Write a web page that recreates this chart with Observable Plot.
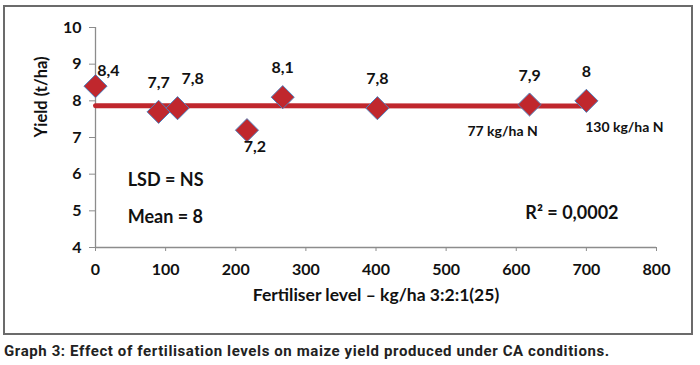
<!DOCTYPE html>
<html><head><meta charset="utf-8">
<script src="https://cdn.jsdelivr.net/npm/d3@7"></script>
<script src="https://cdn.jsdelivr.net/npm/@observablehq/plot@0.6"></script>
<style>
body{margin:0;background:#fff;width:700px;height:365px;overflow:hidden;font-family:Lato,"Open Sans",sans-serif;}
#box{position:absolute;left:3px;top:5px;width:686px;height:326px;border:2px solid #6b6b6b;}
#cap{position:absolute;left:4px;top:342px;font-family:"Roboto",sans-serif;font-weight:bold;font-size:15px;letter-spacing:0.6px;color:#222;white-space:nowrap;}
</style></head>
<body>
<div id="box"></div>
<div id="cap">Graph 3: Effect of fertilisation levels on maize yield produced under CA conditions.</div>
<script>
// data
const fertiliser = [0, 90, 117, 216, 267, 402, 619, 700];
const yieldTHa   = [8.4, 7.7, 7.8, 7.2, 8.1, 7.8, 7.9, 8.0];
const valueLabels = ["8,4", "7,7", "7,8", "7,2", "8,1", "7,8", "7,9", "8"];
const labelPlace  = ["right", "above", "above-right", "below", "above", "above", "above", "above"];
const xTicks = [0, 100, 200, 300, 400, 500, 600, 700, 800];
const yTicks = [4, 5, 6, 7, 8, 9, 10];
const xTitle = "Fertiliser level \u2013 kg/ha 3:2:1(25)";
const yTitle = "Yield (t/ha)";
const noteText = ["LSD = NS", "Mean = 8", "R\u00b2 = 0,0002"];
const noteX = [46, 46, 613];
const noteY = [5.83, 4.83, 4.93];
const nText = ["77 kg/ha N", "130 kg/ha N"];
const nX = [619, 700];
const nY = [7.9, 8.0];
const nPlace = ["below-left", "below-right"];

const pts = fertiliser.map((x, i) => ({x, y: yieldTHa[i], label: valueLabels[i], place: labelPlace[i]}));
const offs = {"right": [13, -15], "above": [0, -29], "above-right": [15, -29], "below": [8, 17]};
const nOffs = {"below-left": [-27, 27], "below-right": [38, 27]};
const notes = noteText.map((t, i) => ({t, x: noteX[i], y: noteY[i]}));
const nNotes = nText.map((t, i) => ({t, x: nX[i], y: nY[i], place: nPlace[i]}));

const red = "#c0272d";
const font = "Lato, 'Open Sans', sans-serif";

const labelMarks = Object.entries(offs).map(([k, [dx, dy]]) =>
  Plot.text(pts.filter(d => d.place === k), {x: "x", y: "y", text: "label", dx, dy,
    fontSize: 16, fontWeight: "bold", fill: "#111"}));
const nMarks = Object.entries(nOffs).map(([k, [dx, dy]]) =>
  Plot.text(nNotes.filter(d => d.place === k), {x: "x", y: "y", text: "t", dx, dy,
    fontSize: 14, fontWeight: "bold", fill: "#111"}));

const chart = Plot.plot({
  width: 686, height: 326,
  marginLeft: 90, marginRight: 35, marginTop: 20, marginBottom: 86,
  style: {fontFamily: font, background: "transparent", overflow: "visible"},
  x: {domain: [0, 800]},
  y: {domain: [4, 10]},
  marks: [
    Plot.ruleX([0], {stroke: "#8c8c8c", strokeWidth: 1.3}),
    Plot.ruleY([4], {stroke: "#8c8c8c", strokeWidth: 1.3}),
    Plot.axisY({ticks: yTicks, tickFormat: "d", tickSize: 6, tickPadding: 8, stroke: "#8c8c8c",
      fontSize: 16, fontWeight: "bold", fill: "#111", label: null}),
    Plot.axisX({ticks: xTicks, tickFormat: "d", tickSize: 4, tickPadding: 12, stroke: "#8c8c8c",
      fontSize: 16, fontWeight: "bold", fill: "#111", label: null}),
    Plot.text([yTitle], {frameAnchor: "left", dx: -54, rotate: -90, fontSize: 16.5, fontWeight: "bold", fill: "#111"}),
    Plot.text([xTitle], {frameAnchor: "bottom", dy: 53, fontSize: 17.5, fontWeight: "bold", fill: "#111"}),
    Plot.linearRegressionY(pts, {x: "x", y: "y", ci: 0, stroke: red, strokeWidth: 5}),
    Plot.dot(pts, {x: "x", y: "y", symbol: "diamond2", r: 10.4, fill: red, stroke: "#4f81bd", strokeWidth: 1}),
    ...labelMarks,
    ...nMarks,
    Plot.text(notes, {x: "x", y: "y", text: "t", textAnchor: "start", fontSize: 18, fontWeight: "bold", fill: "#111"})
  ]
});
document.getElementById("box").appendChild(chart);
</script>
</body></html>
